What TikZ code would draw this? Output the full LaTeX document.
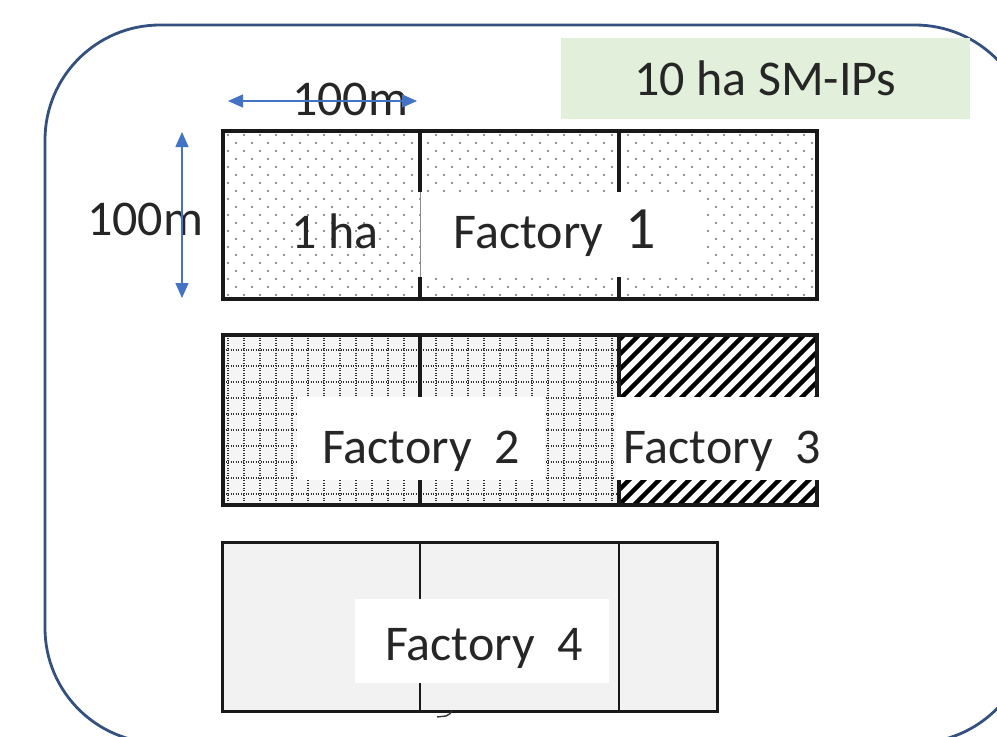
\documentclass[tikz,border=0pt]{standalone}
\usepackage{fontspec}
\setmainfont{Carlito}
\usetikzlibrary{arrows.meta}
\definecolor{framecol}{HTML}{34507E}
\definecolor{arrowblue}{HTML}{4472C4}
\definecolor{greenbox}{HTML}{E2EFDA}
\definecolor{lightfill}{HTML}{F2F2F2}
\definecolor{dotgray}{HTML}{6E6E6E}
\begin{document}
\begin{tikzpicture}[x=1pt,y=-1pt,
  lbl/.style={font=\fontsize{50}{60}\selectfont, text=black!85, inner sep=0pt},
  whitebox/.style={fill=white, draw=none},
  cellborder/.style={draw=black!90, line width=3.4pt},
  divider/.style={draw=black!90, line width=3.2pt},
  gridline/.style={draw=black!80, line width=1.2pt, dash pattern=on 1.2pt off 1.3pt},
  hatchline/.style={draw=black, line width=4.4pt},
  dimarrow/.style={draw=arrowblue, line width=1.4pt,
    {Triangle[width=13pt,length=15pt]}-{Triangle[width=13pt,length=15pt]}}
]
\useasboundingbox (0,0) rectangle (997,737);

% outer rounded frame
\begin{scope}
  \clip (0,0) rectangle (997,737);
  \draw[framecol, line width=2.8pt, rounded corners=115pt] (45,25) rectangle (1030,743);
\end{scope}

% title box
\node[lbl, fill=greenbox, minimum width=409pt, minimum height=81pt] (title) at (765.5,78.5) {10 ha SM-IPs};

% ---------- Row 1: dotted ----------
\begin{scope}
  \clip (223,131) rectangle (817,299);
  \foreach \r in {0,...,21} {
    \pgfmathtruncatemacro\off{mod(\r,2)*8}
    \foreach \c in {0,...,37}
      \fill[dotgray] ({228+16*\c+\off},{135+8*\r}) circle (1.1pt);
  }
\end{scope}
\draw[cellborder] (223,131) rectangle (817,299);
\draw[divider] (420,131) -- (420,192) (420,277) -- (420,299);
\draw[divider] (619,131) -- (619,192) (619,277) -- (619,299);
\path[whitebox] (422,192) rectangle (705,277);
\draw[black!45, line width=1pt] (420,192) -- (420,277);
\node[lbl, anchor=base] (f1) at (555,248) {Factory~~{\fontsize{60}{70}\selectfont 1}};
\node[lbl, anchor=base] (ha) at (335,248) {1 ha};

% ---------- Row 2: grid + hatch ----------
\fill[black!4] (223,335) rectangle (619,505);
\begin{scope}
  \clip (223,335) rectangle (619,505);
  \foreach \k in {0,...,24}
    \draw[gridline] ({228+16*\k},335) -- ({228+16*\k},505);
  \foreach \k in {0,...,10}
    \draw[gridline] (223,{350+16*\k}) -- (619,{350+16*\k});
\end{scope}
\begin{scope}
  \clip (619,335) rectangle (817,505);
  \foreach \k in {0,...,26}
    \draw[hatchline] ({619+15*\k-180},505) -- ({619+15*\k-10},335);
\end{scope}
\draw[cellborder] (223,335) rectangle (817,505);
\draw[divider] (420,335) -- (420,397) (420,480) -- (420,505);
\draw[divider] (619,335) -- (619,505);
\path[whitebox] (297,397) rectangle (545,480);
\path[whitebox] (616,397) rectangle (832,480);
\node[lbl, anchor=base] (f2) at (421,463) {Factory~~2};
\node[lbl, anchor=base] (f3) at (722,463) {Factory~~3};

% ---------- Row 3: plain ----------
\fill[lightfill] (222,542) rectangle (717,711);
\draw[cellborder, line width=3pt] (222,542) rectangle (717,711);
\draw[divider, line width=2.8pt] (420,542) -- (420,600) (420,683) -- (420,711);
\draw[divider, line width=2.8pt] (619,542) -- (619,711);
\path[whitebox] (355,599) rectangle (609,683);
\node[lbl, anchor=base] (f4) at (484,660) {Factory~~4};
\draw[black!80, line width=1.4pt] (437,717) -- (446,716) .. controls (449,715) and (451,713) .. (452,711);

% ---------- dimensions ----------
\node[lbl, anchor=base] (dimtop) at (350,115) {100m};
\node[lbl, anchor=base] (dimleft) at (145,235) {100m};
\coordinate (hL) at (228,101);
\coordinate (hR) at (417,101);
\coordinate (vT) at (182,132);
\coordinate (vB) at (182,298);
\draw[dimarrow] (hL) -- (hR);
\draw[dimarrow] (vT) -- (vB);
\end{tikzpicture}
\end{document}
